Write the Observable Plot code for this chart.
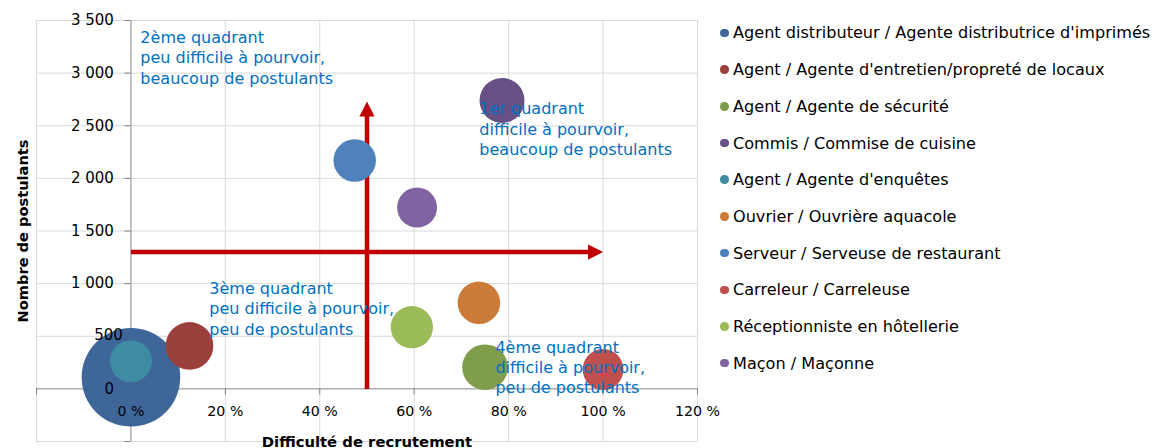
<!DOCTYPE html>
<html>
<head>
<meta charset="utf-8">
<script src="https://cdn.jsdelivr.net/npm/d3@7"></script>
<script src="https://cdn.jsdelivr.net/npm/@observablehq/plot@0.6"></script>
<style>
  html, body { margin: 0; padding: 0; background: #fff; }
  body { width: 1156px; height: 448px; position: relative; overflow: hidden; font-family: "DejaVu Sans", sans-serif; }
  #chart { position: absolute; left: 0; top: 0; }
  #legend { position: absolute; left: 720px; top: 14.6px; }
  .item { display: flex; align-items: center; height: 36.7px; font-size: 16.1px; color: #000; white-space: nowrap; }
  .sw { width: 8.5px; height: 8.5px; border-radius: 50%; margin-right: 4.5px; flex: none; }
</style>
</head>
<body>
<div id="chart"></div>
<div id="legend"></div>
<script>
// ---- data ----
const jobs = [
  "Agent distributeur / Agente distributrice d'imprimés",
  "Agent / Agente d'entretien/propreté de locaux",
  "Agent / Agente de sécurité",
  "Commis / Commise de cuisine",
  "Agent / Agente d'enquêtes",
  "Ouvrier / Ouvrière aquacole",
  "Serveur / Serveuse de restaurant",
  "Carreleur / Carreleuse",
  "Réceptionniste en hôtellerie",
  "Maçon / Maçonne"
];
const difficulty = [0, 12.4, 75, 78.6, 0, 73.7, 47.4, 100, 59.5, 60.6];      // %
const applicants = [110, 408, 206, 2740, 263, 818, 2170, 184, 586, 1723];
const bubbleSize = [500, 117, 107, 104, 91, 93, 93, 86, 92, 82];
const colors = ["#3F6699", "#9B3F3D", "#7F9D4B", "#665086", "#3D8CA1", "#CC7A38",
                "#4F81BD", "#C0504D", "#9BBB59", "#8064A2"];

const xTicks = [0, 20, 40, 60, 80, 100, 120];
const xGrid = [-20, 20, 40, 60, 80, 100, 120];
const yTicks = [0, 500, 1000, 1500, 2000, 2500, 3000, 3500];
const yGrid = [-500, 500, 1000, 1500, 2000, 2500, 3000, 3500];

// quadrant dividers (arrows)
const splitX = 50, splitY = 1300;
const arrowVTip = 2730, arrowHTip = 100;

const quadText = [
  "2ème quadrant\npeu difficile à pourvoir,\nbeaucoup de postulants",
  "1er quadrant\ndifficile à pourvoir,\nbeaucoup de postulants",
  "3ème quadrant\npeu difficile à pourvoir,\npeu de postulants",
  "4ème quadrant\ndifficile à pourvoir,\npeu de postulants"
];
const quadX = [2.0, 73.8, 16.6, 77.2];
const quadY = [3158, 2479, 773, 213];

const xTitle = "Difficulté de recrutement";
const yTitle = "Nombre de postulants";

// ---- build ----
const points = jobs.map((j, i) => ({job: j, x: difficulty[i], y: applicants[i], s: bubbleSize[i], c: colors[i]}));
const arrows = [
  {x1: splitX, y1: 0, x2: splitX, y2: arrowVTip, rot: 0},
  {x1: 0, y1: splitY, x2: arrowHTip, y2: splitY, rot: 90}
];
const quads = quadText.map((t, i) => ({t, x: quadX[i], y: quadY[i]}));
const fmtY = (d) => d3.format(",")(d).replace(/,/g, " ");
const fmtX = (d) => d + " %";
const FONT = "DejaVu Sans";
const RED = "#C00000";
const head = { draw(ctx) { ctx.moveTo(0, 0); ctx.lineTo(-7.6, 15); ctx.lineTo(7.6, 15); ctx.closePath(); } };

const maxS = d3.max(bubbleSize);
// in the original, the "500" label sits closer to the axis than the others
const yLabelsMain = yTicks.filter(d => d !== 500);
const yLabelsNear = yTicks.filter(d => d === 500);

const chart = Plot.plot({
  width: 715,
  height: 448,
  marginLeft: 36,
  marginRight: 18,
  marginTop: 20,
  marginBottom: 7,
  style: {background: "#fff", overflow: "visible", fontFamily: FONT},
  x: {domain: [-20, 120], axis: null},
  y: {domain: [-500, 3500], axis: null},
  r: {type: "sqrt", domain: [0, maxS], range: [0, 49.3]},
  marks: [
    Plot.ruleY(yGrid, {stroke: "#D9D9D9", strokeWidth: 1}),
    Plot.ruleX(xGrid, {stroke: "#D9D9D9", strokeWidth: 1}),
    Plot.ruleX([0], {stroke: "#868686", strokeWidth: 1}),
    Plot.ruleY([0], {stroke: "#868686", strokeWidth: 1}),
    Plot.ruleX(xGrid.concat([0]), {x: d => d, y1: 0, y2: 0, insetBottom: -6, stroke: "#868686"}),
    Plot.ruleY(yGrid.concat([0]), {y: d => d, x1: 0, x2: 0, insetLeft: -6, stroke: "#868686"}),
    // quadrant arrows
    Plot.arrow(arrows, {x1: "x1", y1: "y1", x2: "x2", y2: "y2", stroke: RED, strokeWidth: 4.5, headLength: 0, insetEnd: 13, strokeLinecap: "butt"}),
    Plot.dot(arrows, {x: "x2", y: "y2", symbol: head, r: 5, rotate: "rot", fill: RED, stroke: null}),
    // bubbles
    Plot.dot(points, {x: "x", y: "y", r: "s", fill: "c", stroke: null, fillOpacity: 1}),
    // annotations
    Plot.text(quads, {x: "x", y: "y", text: "t", textAnchor: "start", lineAnchor: "middle", lineHeight: 1.28, fill: "#0070C0", fontSize: 16, fontFamily: FONT}),
    // tick labels
    Plot.text(yLabelsMain, {x: 0, y: d => d, text: fmtY, textAnchor: "end", dx: -17, fill: "#000", fontSize: 15, fontFamily: FONT}),
    Plot.text(yLabelsNear, {x: 0, y: d => d, text: fmtY, textAnchor: "end", dx: -8, dy: -1.5, fill: "#000", fontSize: 15, fontFamily: FONT}),
    Plot.text(xTicks, {x: d => d, y: 0, text: fmtX, dy: 23, fill: "#000", fontSize: 14.2, fontFamily: FONT}),
    // axis titles
    Plot.text([xTitle], {frameAnchor: "bottom", text: d => d, textAnchor: "middle", lineAnchor: "bottom", dy: 5, fontWeight: "bold", fontSize: 14.8, fill: "#000", fontFamily: FONT}),
    Plot.text([yTitle], {frameAnchor: "left", text: d => d, rotate: -90, textAnchor: "middle", lineAnchor: "middle", dx: -13.5, fontWeight: "bold", fontSize: 14.6, fill: "#000", fontFamily: FONT})
  ]
});
document.getElementById("chart").appendChild(chart);

const legend = document.getElementById("legend");
jobs.forEach((j, i) => {
  const row = document.createElement("div");
  row.className = "item";
  const sw = document.createElement("span");
  sw.className = "sw";
  sw.style.background = colors[i];
  const tx = document.createElement("span");
  tx.textContent = j;
  row.appendChild(sw);
  row.appendChild(tx);
  legend.appendChild(row);
});
</script>
</body>
</html>
